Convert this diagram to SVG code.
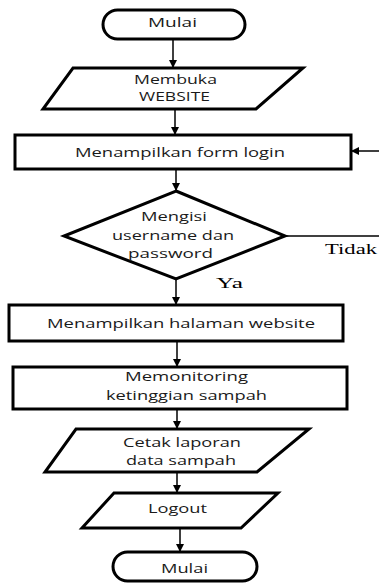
<svg xmlns="http://www.w3.org/2000/svg" width="379" height="583" viewBox="0 0 379 583">
<style>
.s{fill:#fff;stroke:#000;stroke-width:3;stroke-linejoin:miter}
.t{font-family:"Open Sans","Noto Sans",sans-serif;font-size:13.5px;fill:#1a1a1a}
.r{font-family:"Liberation Serif",serif;font-size:15px;fill:#000}
.c{stroke:#000;stroke-width:1.5;fill:none}
</style>
<defs>
<marker id="ah" markerWidth="8" markerHeight="8" refX="7" refY="4" orient="auto" markerUnits="userSpaceOnUse">
<path d="M0,0 L8,4 L0,8 Z" fill="#000"/>
</marker>
</defs>
<rect width="379" height="583" fill="#fff"/>
<g id="connectors">
<line class="c" x1="173" y1="39" x2="173" y2="67" marker-end="url(#ah)"/>
<line class="c" x1="175" y1="109" x2="175" y2="134" marker-end="url(#ah)"/>
<line class="c" x1="176" y1="169" x2="176" y2="190" marker-end="url(#ah)"/>
<polyline class="c" points="285,236 379,236"/>
<line class="c" x1="379" y1="151" x2="352" y2="151" marker-end="url(#ah)"/>
<line class="c" x1="176" y1="279" x2="176" y2="304" marker-end="url(#ah)"/>
<line class="c" x1="177" y1="341" x2="177" y2="366" marker-end="url(#ah)"/>
<line class="c" x1="177" y1="409" x2="177" y2="428" marker-end="url(#ah)"/>
<line class="c" x1="177" y1="472" x2="177" y2="492" marker-end="url(#ah)"/>
<line class="c" x1="180" y1="529" x2="180" y2="551" marker-end="url(#ah)"/>
<text class="r" x="325" y="254" textLength="52" lengthAdjust="spacingAndGlyphs">Tidak</text>
<text class="r" x="216" y="288" textLength="27" lengthAdjust="spacingAndGlyphs">Ya</text>
</g>
<g id="start">
<rect class="s" x="103" y="10" width="142" height="29" rx="14.5"/>
<text class="t" x="148" y="27" textLength="49" lengthAdjust="spacingAndGlyphs">Mulai</text>
</g>
<g id="open-website">
<polygon class="s" points="73,68 303,68 256,109 43,109"/>
<text class="t" x="134" y="84" textLength="83" lengthAdjust="spacingAndGlyphs">Membuka</text>
<text class="t" x="139" y="101" textLength="71" lengthAdjust="spacingAndGlyphs">WEBSITE</text>
</g>
<g id="form-login">
<rect class="s" x="15" y="135" width="336" height="34"/>
<text class="t" x="75" y="157" textLength="210" lengthAdjust="spacingAndGlyphs">Menampilkan form login</text>
</g>
<g id="decision">
<polygon class="s" points="176,191 285,236 176,279 64,236"/>
<text class="t" x="141" y="221" textLength="66" lengthAdjust="spacingAndGlyphs">Mengisi</text>
<text class="t" x="112" y="240" textLength="122" lengthAdjust="spacingAndGlyphs">username dan</text>
<text class="t" x="128" y="258" textLength="85" lengthAdjust="spacingAndGlyphs">password</text>
</g>
<g id="halaman">
<rect class="s" x="9" y="305" width="334" height="36"/>
<text class="t" x="47" y="328" textLength="268" lengthAdjust="spacingAndGlyphs">Menampilkan halaman website</text>
</g>
<g id="monitoring">
<rect class="s" x="13" y="367" width="334" height="42"/>
<text class="t" x="125" y="381" textLength="123" lengthAdjust="spacingAndGlyphs">Memonitoring</text>
<text class="t" x="106" y="400" textLength="161" lengthAdjust="spacingAndGlyphs">ketinggian sampah</text>
</g>
<g id="cetak">
<polygon class="s" points="76,429 309,429 257,472 45,472"/>
<text class="t" x="123" y="447" textLength="118" lengthAdjust="spacingAndGlyphs">Cetak laporan</text>
<text class="t" x="126" y="465" textLength="110" lengthAdjust="spacingAndGlyphs">data sampah</text>
</g>
<g id="logout">
<polygon class="s" points="114,493 278,493 241,528 82,528"/>
<text class="t" x="148" y="513" textLength="59" lengthAdjust="spacingAndGlyphs">Logout</text>
</g>
<g id="end">
<rect class="s" x="113" y="552" width="144" height="29" rx="14.5"/>
<text class="t" x="161" y="573" textLength="47" lengthAdjust="spacingAndGlyphs">Mulai</text>
</g>
</svg>
